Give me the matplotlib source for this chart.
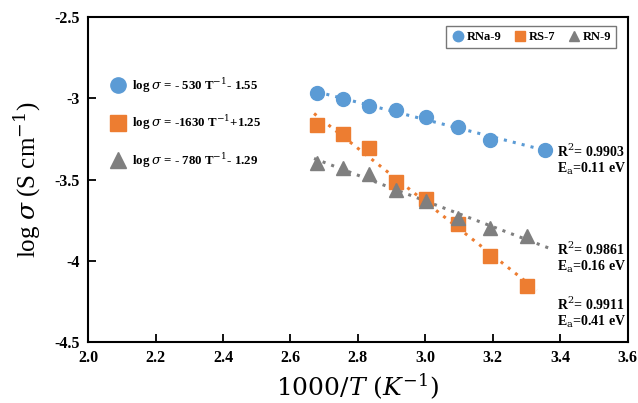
import matplotlib.pyplot as plt
from matplotlib.lines import Line2D
import numpy as np

plt.rcParams['font.family'] = 'Liberation Serif'
plt.rcParams['mathtext.fontset'] = 'dejavuserif'

# data
x_rna = [2.68, 2.755, 2.832, 2.913, 3.003, 3.096, 3.193, 3.354]
y_rna = [-2.968, -3.005, -3.048, -3.072, -3.115, -3.177, -3.257, -3.318]

x_rs = [2.68, 2.755, 2.832, 2.913, 3.003, 3.096, 3.193, 3.30]
y_rs = [-3.165, -3.222, -3.308, -3.513, -3.62, -3.772, -3.968, -4.155]

x_rn = [2.68, 2.755, 2.832, 2.913, 3.003, 3.096, 3.193, 3.30]
y_rn = [-3.40, -3.427, -3.468, -3.565, -3.632, -3.735, -3.797, -3.85]

names = ['RNa-9', 'RS-7', 'RN-9']
equations = [r'log $\sigma$ = - 530 T$^{-1}$- 1.55',
             r'log $\sigma$ = -1630 T$^{-1}$+1.25',
             r'log $\sigma$ = - 780 T$^{-1}$- 1.29']
stats = [r'R$^2$= 0.9903' + '\n' + r'E$_\mathrm{a}$=0.11 eV',
         r'R$^2$= 0.9861' + '\n' + r'E$_\mathrm{a}$=0.16 eV',
         r'R$^2$= 0.9911' + '\n' + r'E$_\mathrm{a}$=0.41 eV']

colors = ['#5B9BD5', '#ED7D31', '#7F7F7F']
markers = ['o', 's', '^']

fig = plt.figure(figsize=(6.38, 4.03), dpi=100)
ax = fig.add_axes([0.138, 0.151, 0.846, 0.807])

series = [(x_rna, y_rna), (x_rs, y_rs), (x_rn, y_rn)]
fit_ranges = [(2.68, 3.37), (2.67, 3.33), (2.67, 3.37)]
handles = []
for (xs, ys), c, m, name, (a, b) in zip(series, colors, markers, names, fit_ranges):
    h, = ax.plot(xs, ys, linestyle='none', marker=m, color=c, markersize=10,
                 label=name, zorder=3)
    handles.append(h)
    k, c0 = np.polyfit(xs, ys, 1)
    xf = np.linspace(a, b, 50)
    ax.plot(xf, k * xf + c0, linestyle=(0, (1, 2)), color=c, linewidth=2.2, zorder=2)

ax.set_xlim(2.0, 3.6)
ax.set_ylim(-4.5, -2.5)
ax.set_xticks(np.arange(2.0, 3.61, 0.2))
ax.set_xticklabels(['%.1f' % v for v in np.arange(2.0, 3.61, 0.2)])
ax.set_yticks([-2.5, -3, -3.5, -4, -4.5])
ax.set_yticklabels(['-2.5', '-3', '-3.5', '-4', '-4.5'])
ax.tick_params(direction='in', length=6, width=1.3, labelsize=11.5, pad=6)
for lab in ax.get_xticklabels() + ax.get_yticklabels():
    lab.set_fontweight('bold')
for sp in ax.spines.values():
    sp.set_linewidth(1.5)

ax.set_xlabel(r'$1000/T\ (K^{-1})$', fontsize=18, labelpad=4)
ax.set_ylabel(r'log $\sigma$ (S cm$^{-1}$)', fontsize=18, labelpad=8)

leg = ax.legend(handles=handles, loc='upper right', ncol=3,
                prop={'weight': 'bold', 'size': 9}, handletextpad=0.2,
                columnspacing=1.0, handlelength=1.0, markerscale=0.75,
                fancybox=False, edgecolor='#555555', borderpad=0.4,
                bbox_to_anchor=(0.99, 0.99))
leg.get_frame().set_linewidth(1.0)
ax.add_artist(leg)

eq_handles = [Line2D([], [], linestyle='none', marker=m, color=c, markersize=11)
              for m, c in zip(markers, colors)]
ax.legend(eq_handles, equations, loc='upper left', bbox_to_anchor=(0.02, 0.855),
          frameon=False, prop={'weight': 'bold', 'size': 9.3}, labelspacing=1.45,
          handletextpad=0.5, handlelength=1.2)

stat_pos = [(3.39, -3.38), (3.39, -3.983), (3.39, -4.32)]
for (sx, sy), s in zip(stat_pos, stats):
    ax.text(sx, sy, s, fontsize=10, fontweight='bold', va='center', ha='left',
            linespacing=1.05)

fig.savefig('out.png', dpi=100)
